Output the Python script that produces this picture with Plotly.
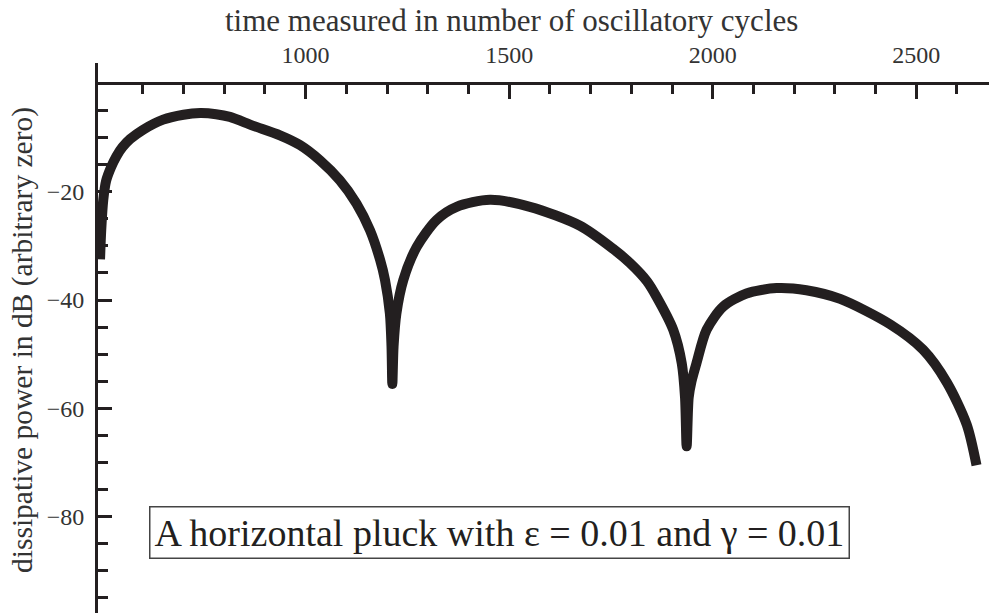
import plotly.graph_objects as go

# Dissipative power (dB, arbitrary zero) versus time in oscillatory cycles
cycles = [495, 498, 503, 510, 522, 535, 550, 569, 600, 650, 700, 741, 780, 814, 870,
          937, 986, 1035, 1084, 1125, 1158, 1183, 1195, 1207, 1211, 1213,
          1216, 1223, 1240, 1273, 1322, 1371, 1453, 1551, 1674, 1756, 1797, 1838,
          1862, 1903, 1924, 1932, 1936, 1941, 1948, 1960, 1985, 2026, 2083, 2157,
          2230, 2313, 2436, 2517, 2575, 2624, 2648]
power_db = [-32.5, -27, -21.5, -18, -15.5, -13.5, -11.8, -10.3, -8.6, -6.7, -5.8,
            -5.5, -5.7, -6.2, -7.8, -9.6, -11.4, -14.2, -17.9, -22.2, -27.1,
            -32.6, -36.3, -42.5, -48.6, -55.5, -48.6, -42.5, -36.3, -30.2, -25.2,
            -22.8, -21.5, -22.8, -26.3, -30.6, -33.2, -36.5, -39.4, -45.5, -51.7,
            -58, -67, -58, -55, -51.7, -45.5, -41.2, -38.8, -37.8, -38.2, -39.8,
            -44.5, -49.2, -55.2, -63, -70.5]

x_major = [1000, 1500, 2000, 2500]
x_minor = [600, 700, 800, 900, 1100, 1200, 1300, 1400, 1600, 1700, 1800, 1900,
           2100, 2200, 2300, 2400, 2600]
y_major = [-20, -40, -60, -80]
y_minor = [-5, -10, -15, -25, -30, -35, -45, -50, -55, -65, -70, -75, -85, -90, -95]

x_range = [490, 2678.7]
y_range = [-97.78, 3.75]

ink = "#231f20"
label_grey = "#333333"
serif = "Liberation Serif, Times New Roman, serif"

fig = go.Figure()
fig.add_trace(go.Scatter(
    x=cycles, y=power_db, mode="lines",
    line=dict(color=ink, width=10, shape="spline", smoothing=0.8),
    hoverinfo="skip", showlegend=False,
))

# x axis crosses the y axis at zero dB
x_pos = (0 - y_range[0]) / (y_range[1] - y_range[0])

fig.update_layout(
    width=989, height=613,
    margin=dict(l=98, r=0, t=63, b=0),
    paper_bgcolor="white", plot_bgcolor="white",
    font=dict(family=serif, color=ink),
    xaxis=dict(
        range=x_range, side="top", anchor="free", position=x_pos,
        showgrid=False, zeroline=False,
        showline=True, linecolor=ink, linewidth=3,
        ticks="inside", ticklen=14, tickwidth=3, tickcolor=ink,
        tickmode="array", tickvals=x_major, ticktext=[str(v) for v in x_major],
        tickfont=dict(size=24, color=label_grey), ticklabelstandoff=10,
        minor=dict(tickmode="array", tickvals=x_minor, ticks="inside",
                   ticklen=9, tickwidth=3, tickcolor=ink, showgrid=False),
    ),
    yaxis=dict(
        range=y_range, showgrid=False, zeroline=False,
        showline=True, linecolor=ink, linewidth=3,
        ticks="inside", ticklen=14, tickwidth=3, tickcolor=ink,
        tickmode="array", tickvals=y_major,
        ticktext=["\u2212" + str(-v) for v in y_major],
        tickfont=dict(size=24, color=label_grey), ticklabelstandoff=6,
        minor=dict(tickmode="array", tickvals=y_minor, ticks="inside",
                   ticklen=10, tickwidth=3, tickcolor=ink, showgrid=False),
    ),
)

fig.add_annotation(
    text="time measured in number of oscillatory cycles",
    xref="paper", yref="paper", x=(511 - 98) / 891, y=1 + (63 - 20) / 550,
    showarrow=False, font=dict(size=31, color=label_grey),
    xanchor="center", yanchor="middle",
)
fig.add_annotation(
    text="dissipative power in dB (arbitrary zero)",
    xref="paper", yref="paper", x=-(98 - 22) / 891, y=1 - (340 - 63) / 550,
    showarrow=False, textangle=-90, font=dict(size=29.5, color=label_grey),
    xanchor="center", yanchor="middle",
)
fig.add_annotation(
    text="A horizontal pluck with \u03b5 = 0.01 and \u03b3 = 0.01",
    xref="paper", yref="paper", x=(499 - 98) / 891, y=1 - (532 - 63) / 550,
    showarrow=False, font=dict(size=38, color=ink),
    xanchor="center", yanchor="middle",
    bordercolor="#444444", borderwidth=1.5, borderpad=4, bgcolor="white",
)

fig.write_html("out.html")
